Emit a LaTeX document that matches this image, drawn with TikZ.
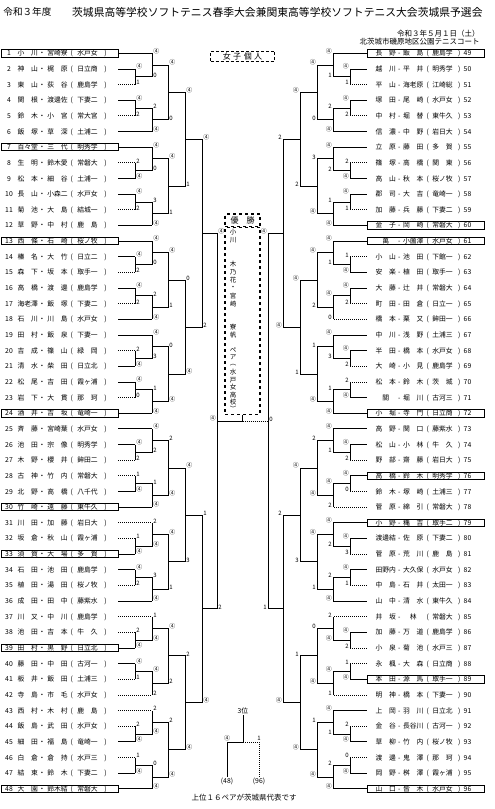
\documentclass[tikz,border=0pt]{standalone}
\usepackage{fontspec}
\setmainfont{Noto Sans CJK JP}
\usetikzlibrary{calc,positioning}

\newcount\scn
\def\getw#1#2#3#4#5{\def\va{#1}\def\vb{#2}\def\vc{#3}\def\vd{#4}\def\ve{#5}}
\def\gets#1#2#3#4#5{\def\qa{#1}\def\qb{#2}\def\qc{#3}\def\qd{#4}\def\qe{#5}}

% score marks at one match: side, top arm, bottom arm, winner (t/b), loser's games
\newcommand\score[5]{%
  \global\advance\scn by 1
  \if t#4
    \node[mk#1] (sc\the\scn a) at (#2) {④};
    \node[mk#1] (sc\the\scn b) at (#3) {#5};
  \else
    \node[mk#1] (sc\the\scn a) at (#2) {#5};
    \node[mk#1] (sc\the\scn b) at (#3) {④};
  \fi}

% one block of six pairs: first entry, side, winners, loser scores
\newcommand\grp[4]{%
  \pgfmathtruncatemacro\ga{#1}\pgfmathtruncatemacro\gb{#1+1}%
  \pgfmathtruncatemacro\gc{#1+2}\pgfmathtruncatemacro\gd{#1+3}%
  \pgfmathtruncatemacro\gee{#1+4}\pgfmathtruncatemacro\gf{#1+5}%
  \getw#3\gets#4%
  % first round
  \draw (t\gb -| #21) -- (t\gc -| #21);
  \draw (t\gd -| #21) -- (t\gee -| #21);
  \coordinate (m\gb) at ($(t\gb -| #21)!.5!(t\gc -| #21)$);
  \coordinate (m\gd) at ($(t\gd -| #21)!.5!(t\gee -| #21)$);
  % second round
  \draw (m\gb) -- (m\gb -| #22) -- (t\ga -| #22);
  \draw (m\gd) -- (m\gd -| #22) -- (t\gf -| #22);
  \coordinate (n\ga) at ($(t\ga -| #22)!.5!(m\gb -| #22)$);
  \coordinate (n\gf) at ($(m\gd -| #22)!.5!(t\gf -| #22)$);
  % third round
  \draw (n\ga) -- (n\ga -| #23) -- (n\gf -| #23) -- (n\gf);
  \coordinate (o\ga) at ($(n\ga -| #23)!.5!(n\gf -| #23)$);
  \score{#2}{t\gb -| #21}{t\gc -| #21}{\va}{\qa}
  \score{#2}{t\gd -| #21}{t\gee -| #21}{\vb}{\qb}
  \score{#2}{t\ga -| #22}{m\gb -| #22}{\vc}{\qc}
  \score{#2}{m\gd -| #22}{t\gf -| #22}{\vd}{\qd}
  \score{#2}{n\ga -| #23}{n\gf -| #23}{\ve}{\qe}}

% later rounds: side, top, bottom, column, winner, loser score, result
\newcommand\rnd[7]{%
  \draw (#2) -- (#2 -| #1#4) -- (#3 -| #1#4) -- (#3);
  \coordinate (#7) at ($(#2 -| #1#4)!.5!(#3 -| #1#4)$);
  \score{#1}{#2 -| #1#4}{#3 -| #1#4}{#5}{#6}}

\begin{document}
\begin{tikzpicture}[x=1pt,y=-1pt,
  line width=0.9pt,
  row/.style={minimum width=117pt, minimum height=7.5pt, inner sep=0pt},
  seedrow/.style={row, draw, line width=1pt},
  nm/.style={font=\fontsize{6.8}{7}\selectfont, inner sep=0pt, anchor=base},
  won/.style={solid},
  lost/.style={dash pattern=on 0.9pt off 1.1pt},
  mkL/.style={font=\fontsize{6}{6}\selectfont, inner sep=0pt, anchor=south west, xshift=0.8pt, yshift=-0.8pt},
  mkR/.style={font=\fontsize{6}{6}\selectfont, inner sep=0pt, anchor=south east, xshift=-0.8pt, yshift=-0.8pt},
  cbox/.style={draw, dashed, line width=1.2pt, minimum width=35pt, inner sep=0pt, font=\fontsize{8}{8}\selectfont}
]
\useasboundingbox (0,0) rectangle (495,809);
\fill[white] (0,0) rectangle (495,809);

% columns of the draw
\foreach \r/\xl in {1/135,2/152,3/168,4/185,5/202,6/217} {
  \coordinate (L\r) at (\xl,0);
  \coordinate (R\r) at (485-\xl,0);
}

% heading
\node[anchor=west, inner sep=0pt, font=\fontsize{9.6}{10}\selectfont] (title1) at (3,12) {令和３年度};
\node[anchor=east, inner sep=0pt, font=\fontsize{10.8}{11}\selectfont] (title2) at (483,12) {茨城県高等学校ソフトテニス春季大会兼関東高等学校ソフトテニス大会茨城県予選会};
\node[anchor=east, inner sep=0pt, font=\fontsize{7.5}{8}\selectfont] (date) at (480,34) {令和３年５月１日（土）};
\node[anchor=east, inner sep=0pt, font=\fontsize{7.5}{8}\selectfont] (place) at (480,41.5) {北茨城市磯原地区公園テニスコート};
\node[draw, densely dashed, line width=1pt, minimum width=64pt, minimum height=10pt, inner sep=0pt,
  font=\fontsize{8}{8}\selectfont] (cat) at (242.5,56) {女\hspace{2.5pt}子\hspace{2.5pt}個\hspace{2.5pt}人};

% left entries
\foreach \nn/\fa/\fb/\sch/\ls/\bx in {
  1/小　川/宮崎寮/水戸女/won/seedrow, 2/神　山/梶　原/日立商/won/row,
  3/東　山/荻　谷/鹿島学/lost/row, 4/関　根/渡邊佐/下妻二/won/row,
  5/鈴　木/小　宮/常大宮/lost/row, 6/飯　塚/草　深/土浦二/won/row,
  7/百々堂/三　代/明秀学/won/seedrow, 8/生　明/鈴木愛/常磐大/lost/row,
  9/松　本/細　谷/土浦一/won/row, 10/長　山/小森二/水戸女/won/row,
  11/菊　池/大　島/結城一/lost/row, 12/草　野/中　村/鹿　島/won/row,
  13/西　條/石　崎/桜ノ牧/won/seedrow, 14/榛　名/大　竹/日立二/won/row,
  15/森　下/坂　本/取手一/lost/row, 16/高　橋/渡　邊/鹿島学/won/row,
  17/海老澤/飯　塚/下妻二/lost/row, 18/石　川/川　島/水戸女/won/row,
  19/田　村/飯　泉/下妻一/won/row, 20/吉　成/篠　山/緑　岡/lost/row,
  21/清　水/柴　田/日立北/won/row, 22/松　尾/吉　田/霞ヶ浦/won/row,
  23/岩　下/大　貫/那　珂/lost/row, 24/酒　井/吉　坂/竜崎一/won/seedrow,
  25/斉　藤/宮崎葉/水戸女/won/row, 26/池　田/宗　像/明秀学/won/row,
  27/木　野/櫻　井/鉾田二/lost/row, 28/古　神/竹　内/常磐大/lost/row,
  29/北　野/高　橋/八千代/won/row, 30/竹　崎/遠　藤/東牛久/won/seedrow,
  31/川　田/加　藤/岩日大/lost/row, 32/坂　倉/秋　山/霞ヶ浦/lost/row,
  33/須　賀/大　場/多　賀/won/seedrow, 34/石　田/池　田/鹿島学/won/row,
  35/植　田/湯　田/桜ノ牧/lost/row, 36/成　田/田　中/藤紫水/won/row,
  37/川　又/中　川/鹿島学/lost/row, 38/池　田/吉　本/牛　久/lost/row,
  39/田　村/黒　野/日立北/won/seedrow, 40/藤　田/中　田/古河一/won/row,
  41/板　井/飯　田/土浦三/lost/row, 42/寺　島/市　毛/水戸女/lost/row,
  43/西　村/木　村/鹿　島/lost/row, 44/飯　島/武　田/水戸女/lost/row,
  45/細　田/福　島/竜崎一/won/row, 46/白　倉/倉　持/水戸三/lost/row,
  47/結　束/鈴　木/下妻二/won/row, 48/大　園/鈴木結/常磐大/won/seedrow} {
  \pgfmathsetmacro\yy{53.3+(\nn-1)*15.65}
  \pgfmathsetmacro\yb{\yy+2.5}
  \node[\bx] (e\nn) at (59.5,\yy) {};
  \node[nm] (e\nn-no) at (9,\yb) {\nn};
  \node[nm] (e\nn-a) at (27.7,\yb) {\fa};
  \node[nm] (e\nn-d) at (42,\yb) {・};
  \node[nm] (e\nn-b) at (57.5,\yb) {\fb};
  \node[nm] (e\nn-l) at (71.7,\yb) {(};
  \node[nm] (e\nn-s) at (87.5,\yb) {\sch};
  \node[nm] (e\nn-r) at (105.5,\yb) {)};
  \coordinate (t\nn) at (e\nn.east);
  \pgfmathtruncatemacro\kk{mod(\nn-1,6)}
  \ifnum\kk=0 \def\cl{2}\else\ifnum\kk=5 \def\cl{2}\else\def\cl{1}\fi\fi
  \draw[\ls] (t\nn) -- (t\nn -| L\cl);
}

% right entries
\foreach \nn/\fa/\fb/\sch/\ls/\bx in {
  49/長　野/飯　島/鹿島学/won/seedrow, 50/越　川/平　井/明秀学/won/row,
  51/平　山/海老原/江崎総/lost/row, 52/塚　田/尾　崎/水戸女/won/row,
  53/中　村/堀　替/東牛久/lost/row, 54/信　濃/中　野/岩日大/won/row,
  55/立　原/藤　田/多　賀/won/row, 56/篠　塚/高　橋/関　東/lost/row,
  57/高　山/秋　本/桜ノ牧/won/row, 58/郡　司/大　吉/竜崎一/won/row,
  59/加　藤/兵　藤/下妻二/lost/row, 60/金　子/岡　崎/常磐大/won/seedrow,
  61/萬/小薗澤/水戸女/won/seedrow, 62/小　山/池　田/下館一/lost/row,
  63/安　楽/植　田/取手一/won/row, 64/大　藤/辻　井/常磐大/won/row,
  65/町　田/田　倉/日立一/lost/row, 66/橋　本/栗　又/鉾田一/lost/row,
  67/中　川/浅　野/土浦三/won/row, 68/半　田/橋　本/水戸女/won/row,
  69/大　崎/小　見/鹿島学/lost/row, 70/松　本/鈴　木/茨　城/lost/row,
  71/關/堀　川/古河三/won/row, 72/小　堀/寺　門/日立商/won/seedrow,
  73/高　野/関　口/藤紫水/won/row, 74/松　山/小　林/牛　久/won/row,
  75/野　部/齋　藤/岩日大/lost/row, 76/高　橋/鈴　木/明秀学/won/seedrow,
  77/鈴　木/塚　崎/土浦三/lost/row, 78/菅　原/綿　引/常磐大/lost/row,
  79/小　野/穐　吉/取手二/won/seedrow, 80/渡邊結/佐　原/下妻二/won/row,
  81/菅　原/荒　川/鹿　島/lost/row, 82/田野内/大久保/水戸女/won/row,
  83/中　島/石　井/太田一/lost/row, 84/山　中/清　水/東牛久/won/row,
  85/井　坂/林/常磐大/lost/row, 86/加　藤/万　道/鹿島学/won/row,
  87/小　泉/菊　池/水戸三/lost/row, 88/永　楓/大　森/日立商/lost/row,
  89/本　田/源　馬/取手一/won/seedrow, 90/明　神/橋　本/下妻一/lost/row,
  91/上　岡/羽　川/日立北/won/row, 92/金　谷/長谷川/古河一/lost/row,
  93/草　柳/竹　内/桜ノ牧/won/row, 94/渡　邊/鬼　澤/那　珂/lost/row,
  95/岡　野/桝　澤/霞ヶ浦/won/row, 96/山　口/皆　木/水戸女/won/seedrow} {
  \pgfmathsetmacro\yy{53.3+(\nn-49)*15.65}
  \pgfmathsetmacro\yb{\yy+2.5}
  \node[\bx] (e\nn) at (425.5,\yy) {};
  \node[nm] (e\nn-a) at (385.8,\yb) {\fa};
  \node[nm] (e\nn-d) at (399.3,\yb) {-};
  \node[nm] (e\nn-b) at (413.3,\yb) {\fb};
  \node[nm] (e\nn-l) at (427.7,\yb) {(};
  \node[nm] (e\nn-s) at (442.5,\yb) {\sch};
  \node[nm] (e\nn-r) at (459.3,\yb) {)};
  \node[nm] (e\nn-no) at (467.5,\yb) {\nn};
  \coordinate (t\nn) at (e\nn.west);
  \pgfmathtruncatemacro\kk{mod(\nn-1,6)}
  \ifnum\kk=0 \def\cl{2}\else\ifnum\kk=5 \def\cl{2}\else\def\cl{1}\fi\fi
  \draw[\ls] (t\nn) -- (t\nn -| R\cl);
}

% blocks of six
\grp{1}{L}{tttbt}{12020}
\grp{7}{L}{bttbt}{22031}
\grp{13}{L}{tttbt}{22021}
\grp{19}{L}{bttbb}{20310}
\grp{25}{L}{tbtbb}{21212}
\grp{31}{L}{btbbt}{12231}
\grp{37}{L}{btbtt}{21122}
\grp{43}{L}{bbbbb}{21202}
\grp{49}{R}{tttbt}{12120}
\grp{55}{R}{bttbb}{21213}
\grp{61}{R}{btttt}{12102}
\grp{67}{R}{tbtbb}{22311}
\grp{73}{R}{ttttb}{20122}
\grp{79}{R}{tttbt}{31221}
\grp{85}{R}{tbbtb}{21210}
\grp{91}{R}{bbtbb}{20121}

% best sixteen onwards
\rnd{L}{o1}{o7}{4}{t}{1}{q1}
\rnd{L}{o13}{o19}{4}{b}{0}{q13}
\rnd{L}{o25}{o31}{4}{t}{3}{q25}
\rnd{L}{o37}{o43}{4}{b}{2}{q37}
\rnd{L}{q1}{q13}{5}{t}{2}{h1}
\rnd{L}{q25}{q37}{5}{b}{1}{h25}
\rnd{L}{h1}{h25}{6}{t}{2}{s1}
\rnd{R}{o49}{o55}{4}{t}{2}{q49}
\rnd{R}{o61}{o67}{4}{t}{1}{q61}
\rnd{R}{o73}{o79}{4}{t}{3}{q73}
\rnd{R}{o85}{o91}{4}{b}{1}{q85}
\rnd{R}{q49}{q61}{5}{b}{2}{h49}
\rnd{R}{q73}{q85}{5}{b}{2}{h73}
\rnd{R}{h49}{h73}{6}{t}{1}{s49}

% champion
\node[cbox, minimum height=12.5pt] (head) at (242.5,220.25) {優\hspace{8pt}勝};
\node[cbox, minimum height=186.5pt, below=0pt of head] (champ) {};
\foreach \ch/\vy [count=\vi] in {小/232.5,川/240.5,木/264,乃/272,花/280,・/288,宮/296,崎/304,
  寮/327,帆/335,ペ/350,ア/357.5,︵/365,水/372.5,戸/380,女/387.5,高/395,校/402.5,︶/409} {
  \node[font=\fontsize{6.5}{6.5}\selectfont, inner sep=0pt] (v\vi) at (233,\vy) {\ch};
}
\coordinate (fin) at ($(s1)!.5!(s49)$);
\draw (s1) -- (fin);
\draw[lost] (fin) -- (s49);
\draw (champ.south) -- (fin);
\node[mkR] (fa) at (s1) {④};
\node[mkL] (fb) at (s49) {0};

% third place
\node[nm, anchor=center] (third) at (243,711) {3位};
\node[nm, anchor=center] (p48) at (227,781) {(48)};
\node[nm, anchor=center] (p96) at (259,781) {(96)};
\coordinate (tp) at (243,742);
\draw (p48.north) -- (p48.north |- tp) -- (tp) -- (third.south);
\draw[lost] (tp) -- (p96.north |- tp) -- (p96.north);
\node[font=\fontsize{6}{6}\selectfont, inner sep=0pt, anchor=south] (ta) at ([yshift=1pt]p48.north |- tp) {④};
\node[font=\fontsize{6}{6}\selectfont, inner sep=0pt, anchor=south] (tb) at ([yshift=1pt]p96.north |- tp) {1};

\node[inner sep=0pt, font=\fontsize{7.5}{8}\selectfont] (note) at (244,798) {上位１６ペアが茨城県代表です};
\end{tikzpicture}
\end{document}
